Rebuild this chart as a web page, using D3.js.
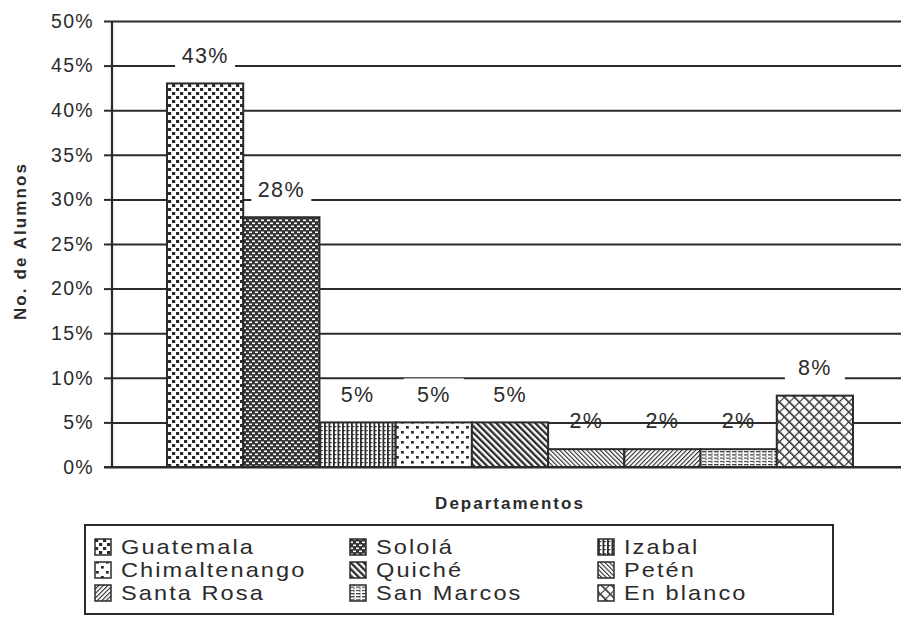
<!DOCTYPE html>
<html>
<head>
<meta charset="utf-8">
<script src="https://cdn.jsdelivr.net/npm/d3@7"></script>
<style>
  html, body { margin: 0; padding: 0; background: #fff; }
  svg { display: block; }
  text { font-family: "Liberation Sans", Arial, sans-serif; fill: #2b2b2b; }
</style>
</head>
<body>
<svg id="chart" width="901" height="617"></svg>
<script>
// ---- data ----
const categories = ["Guatemala", "Sololá", "Izabal", "Chimaltenango", "Quiché", "Petén", "Santa Rosa", "San Marcos", "En blanco"];
const values = [43, 28, 5, 5, 5, 2, 2, 2, 8];
const yTicks = [0, 5, 10, 15, 20, 25, 30, 35, 40, 45, 50];
const yTitle = "No. de Alumnos";
const xTitle = "Departamentos";
// which data labels are drawn with an opaque (white) box
const labelOpaque = [true, true, false, true, false, false, false, false, true];

// ---- layout ----
const svg = d3.select("#chart");
const axisX = 112, gridStart = 104, gridEnd = 901;
const y = d3.scaleLinear().domain([0, 50]).range([467, 21]);
const x = d3.scaleBand().domain(categories).range([167, 853]).padding(0);
const ink = "#2b2b2b";

// ---- patterns ----
const defs = svg.append("defs");
function pat(id, w, h, rot) {
  const p = defs.append("pattern").attr("id", id).attr("patternUnits", "userSpaceOnUse")
    .attr("width", w).attr("height", h);
  if (rot) p.attr("patternTransform", "rotate(" + rot + ")");
  p.append("rect").attr("width", w).attr("height", h).attr("fill", "#fff");
  return p;
}
// 0 Guatemala: dense dots
let p = pat("p0", 8, 8);
p.append("rect").attr("x", 0).attr("y", 0).attr("width", 3.2).attr("height", 3).attr("fill", ink);
p.append("rect").attr("x", 4).attr("y", 4).attr("width", 3.2).attr("height", 3).attr("fill", ink);
// 1 Sololá: dark with white spots
p = pat("p1", 6, 6);
p.select("rect").attr("fill", "#333");
p.append("rect").attr("x", 0).attr("y", 0.5).attr("width", 3).attr("height", 1.6).attr("fill", "#fff");
p.append("rect").attr("x", 3).attr("y", 3.5).attr("width", 3).attr("height", 1.6).attr("fill", "#fff");
// 2 Izabal: vertical grid
p = pat("p2", 4.5, 4);
p.append("rect").attr("x", 0).attr("y", 0).attr("width", 1.8).attr("height", 4).attr("fill", ink);
p.append("rect").attr("x", 1.8).attr("y", 2).attr("width", 1.5).attr("height", 1.2).attr("fill", ink);
// 3 Chimaltenango: sparse dots
p = pat("p3", 10, 10);
p.append("rect").attr("x", 1).attr("y", 1).attr("width", 2.8).attr("height", 2.6).attr("fill", ink);
p.append("rect").attr("x", 6).attr("y", 6).attr("width", 2.8).attr("height", 2.6).attr("fill", ink);
// 4 Quiché: bold "\" stripes
p = pat("p4", 4.6, 4.6, -45);
p.append("rect").attr("x", 0).attr("y", 0).attr("width", 2.3).attr("height", 4.6).attr("fill", ink);
// 5 Petén: fine "\" hatch
p = pat("p5", 3.2, 3.2, -45);
p.append("rect").attr("x", 0).attr("y", 0).attr("width", 1.1).attr("height", 3.2).attr("fill", ink);
// 6 Santa Rosa: fine "/" hatch
p = pat("p6", 3.2, 3.2, 45);
p.append("rect").attr("x", 0).attr("y", 0).attr("width", 1.1).attr("height", 3.2).attr("fill", ink);
// 7 San Marcos: horizontal dashes
p = pat("p7", 6, 3.2);
p.append("rect").attr("x", 0).attr("y", 0).attr("width", 4.5).attr("height", 1.1).attr("fill", ink);
p.append("rect").attr("x", 3).attr("y", 1.6).attr("width", 2).attr("height", 0.6).attr("fill", "#777");
// 8 En blanco: weave
p = pat("p8", 7, 7, -45);
p.append("rect").attr("x", 0).attr("y", 0).attr("width", 1.6).attr("height", 7).attr("fill", ink);
p.append("rect").attr("x", 1.6).attr("y", 2).attr("width", 5.4).attr("height", 1.1).attr("fill", ink);
const patIds = categories.map((c, i) => "url(#p" + i + ")");

// ---- grid lines ----
const grid = svg.append("g").attr("transform", "translate(" + axisX + ",0)")
  .call(d3.axisRight(y).tickValues(yTicks).tickSize(gridEnd - axisX).tickFormat(""));
grid.select(".domain").remove();
grid.selectAll(".tick line").attr("stroke", ink).attr("stroke-width", 2);

// ---- y axis ----
const yAxis = svg.append("g").attr("transform", "translate(" + axisX + ",0)")
  .call(d3.axisLeft(y).tickValues(yTicks).tickSize(axisX - gridStart).tickPadding(10)
    .tickFormat(d => d + "%"));
yAxis.select(".domain").attr("stroke", ink).attr("stroke-width", 2.2).attr("d", "M0," + y(50) + "V" + y(0));
yAxis.selectAll(".tick line").attr("stroke", ink).attr("stroke-width", 2);
yAxis.selectAll(".tick text").attr("font-size", 19.5).attr("letter-spacing", 1.3)
  .attr("font-family", "Liberation Sans, Arial, sans-serif").attr("fill", ink);

// ---- bars ----
svg.append("g").selectAll("rect").data(values).join("rect")
  .attr("x", (d, i) => x(categories[i]))
  .attr("y", d => y(d))
  .attr("width", x.bandwidth())
  .attr("height", d => y(0) - y(d))
  .attr("fill", (d, i) => patIds[i])
  .attr("stroke", ink).attr("stroke-width", 2);

// baseline
svg.append("line").attr("x1", gridStart).attr("x2", gridEnd).attr("y1", y(0)).attr("y2", y(0))
  .attr("stroke", ink).attr("stroke-width", 2);

// ---- data labels ----
const lab = svg.append("g").selectAll("g").data(values).join("g")
  .attr("transform", (d, i) => "translate(" + (x(categories[i]) + x.bandwidth() / 2) + "," + (y(d) - 28) + ")");
lab.filter((d, i) => labelOpaque[i]).append("rect")
  .attr("x", -30).attr("y", -16).attr("width", 60).attr("height", 33).attr("fill", "#fff");
lab.append("text").attr("text-anchor", "middle").attr("dy", "0.34em")
  .attr("font-size", 21.5).attr("letter-spacing", 1.3)
  .text(d => d + "%");

// ---- axis titles ----
svg.append("text").attr("transform", "translate(26,241) rotate(-90)")
  .attr("text-anchor", "middle").attr("font-size", 17).attr("font-weight", "bold")
  .attr("letter-spacing", 2.1).text(yTitle);
svg.append("text").attr("x", 510).attr("y", 509)
  .attr("text-anchor", "middle").attr("font-size", 17).attr("font-weight", "bold")
  .attr("letter-spacing", 2.0).text(xTitle);

// ---- legend ----
const lg = svg.append("g");
lg.append("rect").attr("x", 85).attr("y", 525).attr("width", 748).attr("height", 89)
  .attr("fill", "#fff").attr("stroke", ink).attr("stroke-width", 2);
const colX = [95, 350, 598], rowY = [547, 570, 593];
const items = lg.selectAll("g.item").data(categories).join("g").attr("class", "item")
  .attr("transform", (d, i) => "translate(" + colX[i % 3] + "," + rowY[Math.floor(i / 3)] + ")");
items.append("rect").attr("x", 0).attr("y", -8).attr("width", 16).attr("height", 16)
  .attr("fill", (d, i) => patIds[i]).attr("stroke", ink).attr("stroke-width", 1.5);
items.append("g").attr("transform", "translate(26,0) scale(1.15,1)")
  .append("text").attr("dy", "0.36em").attr("font-size", 20.5)
  .attr("letter-spacing", 1.8).text(d => d);
</script>
</body>
</html>
